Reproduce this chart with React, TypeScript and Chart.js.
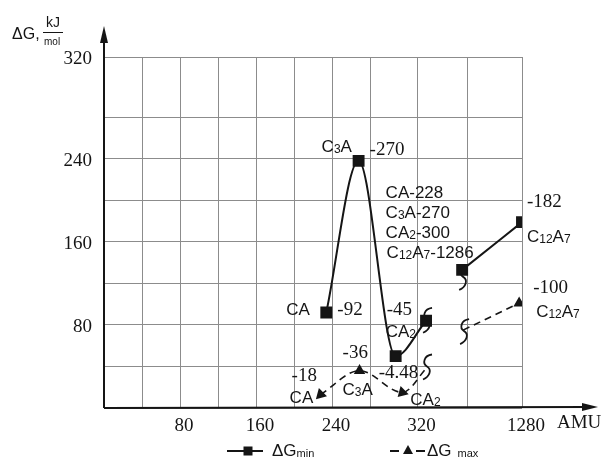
import React, { useEffect, useRef } from "react";
import { Chart, registerables } from "chart.js";
Chart.register(...registerables);

// ---------- data (axis units) ----------
const compounds = ["CA", "C3A", "CA2", "break", "break", "C12A7"];
const gMinX = [234, 268, 307, 339, 377, 440];
const gMinY = [92, 238, 50, 84, 133, 179];
const gMaxX = [228, 269, 314, 340, 378, 437];
const gMaxY = [13, 36, 15, 39, 75, 101];
const splitIndex = 4; // axis break between index 3 and 4
const maxRotation = [225, 0, 225, 0, 0, 0];
const xGridValues = [0, 40, 80, 120, 160, 200, 240, 280, 330, 383, 440];
const xTickValues = [80, 160, 240, 330, 440];
const xTickLabels = ["80", "160", "240", "320", "1280"];
const yGridValues = [0, 40, 80, 120, 160, 200, 240, 280, 338];
const yTickValues = [80, 160, 240, 338];
const yTickLabels = ["80", "160", "240", "320"];

type Ann = { s: 0 | 1; i: number; dx: number; dy: number; text: string; serif?: boolean };
const annotations: Ann[] = [
  { s: 0, i: 1, dx: -37, dy: -9, text: "C3A" },
  { s: 0, i: 1, dx: 11, dy: -6, text: "-270", serif: true },
  { s: 0, i: 1, dx: 27, dy: 37, text: "CA-228" },
  { s: 0, i: 1, dx: 27, dy: 57, text: "C3A-270" },
  { s: 0, i: 1, dx: 27, dy: 77, text: "CA2-300" },
  { s: 0, i: 1, dx: 28, dy: 97, text: "C12A7-1286" },
  { s: 0, i: 5, dx: 5, dy: -15, text: "-182", serif: true },
  { s: 0, i: 5, dx: 5, dy: 20, text: "C12A7" },
  { s: 0, i: 0, dx: -40, dy: 3, text: "CA" },
  { s: 0, i: 0, dx: 11, dy: 3, text: "-92", serif: true },
  { s: 0, i: 2, dx: -9, dy: -41, text: "-45", serif: true },
  { s: 0, i: 2, dx: -10, dy: -19, text: "CA2" },
  { s: 0, i: 2, dx: -17, dy: 22, text: "-4.48", serif: true },
  { s: 1, i: 1, dx: -17, dy: -13, text: "-36", serif: true },
  { s: 1, i: 1, dx: -17, dy: 24, text: "C3A" },
  { s: 1, i: 0, dx: -29, dy: -14, text: "-18", serif: true },
  { s: 1, i: 0, dx: -31, dy: 8, text: "CA" },
  { s: 1, i: 2, dx: 8, dy: 13, text: "CA2" },
  { s: 1, i: 5, dx: 14, dy: -10, text: "-100", serif: true },
  { s: 1, i: 5, dx: 17, dy: 14, text: "C12A7" },
];
const breakMarks = [
  { s: 0, i: 3, dx: 1, dy: -1 },
  { s: 0, i: 4, dx: 1, dy: 7 },
  { s: 1, i: 3, dx: 0, dy: -1 },
  { s: 1, i: 4, dx: 1, dy: 1 },
];

const SERIF = '"Liberation Serif", "DejaVu Serif", serif';
const SANS = '"Liberation Sans", Arial, sans-serif';
const INK = "#151515";

function pts(xs: number[], ys: number[], from: number, to: number) {
  const out: { x: number; y: number }[] = [];
  for (let k = from; k < to; k++) out.push({ x: xs[k], y: ys[k] });
  return out;
}

function drawFormula(ctx: CanvasRenderingContext2D, text: string, x: number, y: number, size: number) {
  // digits directly after a letter become small (subscript-like)
  const parts: [string, boolean][] = [];
  let k = 0;
  while (k < text.length) {
    const ch = text[k];
    const prevLetter = k > 0 && /[A-Za-z]/.test(text[k - 1]);
    if (/[0-9]/.test(ch) && prevLetter) {
      let j = k;
      while (j < text.length && /[0-9]/.test(text[j])) j++;
      parts.push([text.slice(k, j), true]);
      k = j;
    } else {
      let j = k + 1;
      while (j < text.length && !(/[0-9]/.test(text[j]) && /[A-Za-z]/.test(text[j - 1]))) j++;
      parts.push([text.slice(k, j), false]);
      k = j;
    }
  }
  let cx = x;
  for (const [t, small] of parts) {
    ctx.font = `${small ? Math.round(size * 0.68) : size}px ${SANS}`;
    ctx.fillText(t, cx, y + (small ? 1 : 0));
    cx += ctx.measureText(t).width;
  }
}

function drawBreak(ctx: CanvasRenderingContext2D, x: number, y: number) {
  ctx.save();
  ctx.strokeStyle = INK;
  ctx.lineWidth = 1.8;
  ctx.beginPath();
  ctx.moveTo(x + 5, y - 12);
  ctx.bezierCurveTo(x - 3, y - 11, x - 5, y - 3, x, y);
  ctx.bezierCurveTo(x + 5, y + 3, x + 3, y + 10, x - 4, y + 13);
  ctx.stroke();
  ctx.restore();
}

const decorPlugin = {
  id: "decor",
  afterDatasetsDraw(chart: any) {
    const ctx: CanvasRenderingContext2D = chart.ctx;
    const { left, bottom } = chart.chartArea;
    const sx = chart.scales.x;
    const sy = chart.scales.y;
    const anchor = (s: number, i: number) =>
      s === 0
        ? { x: sx.getPixelForValue(gMinX[i]), y: sy.getPixelForValue(gMinY[i]) }
        : { x: sx.getPixelForValue(gMaxX[i]), y: sy.getPixelForValue(gMaxY[i]) };
    ctx.save();
    ctx.fillStyle = INK;
    ctx.strokeStyle = INK;
    ctx.textBaseline = "alphabetic";
    ctx.textAlign = "left";

    // axes with arrows
    ctx.lineWidth = 2;
    ctx.beginPath();
    ctx.moveTo(left, bottom);
    ctx.lineTo(left, 34);
    ctx.moveTo(left, bottom);
    ctx.lineTo(590, bottom - 1);
    ctx.stroke();
    ctx.beginPath();
    ctx.moveTo(left, 26);
    ctx.lineTo(left - 4, 43);
    ctx.lineTo(left + 4, 43);
    ctx.closePath();
    ctx.fill();
    ctx.beginPath();
    ctx.moveTo(598, bottom - 1);
    ctx.lineTo(582, bottom - 5);
    ctx.lineTo(582, bottom + 3);
    ctx.closePath();
    ctx.fill();

    // axis titles
    ctx.font = `16px ${SANS}`;
    ctx.fillText("ΔG,", 12, 39);
    ctx.font = `14px ${SANS}`;
    ctx.fillText("kJ", 46, 27);
    ctx.lineWidth = 1;
    ctx.beginPath();
    ctx.moveTo(43, 32.5);
    ctx.lineTo(63, 32.5);
    ctx.stroke();
    ctx.font = `10px ${SANS}`;
    ctx.fillText("mol", 44, 45);
    ctx.font = `19px ${SERIF}`;
    ctx.fillText("AMU", 557, 428);

    // annotations
    for (const a of annotations) {
      const p = anchor(a.s, a.i);
      if (a.serif) {
        ctx.font = `19px ${SERIF}`;
        ctx.fillText(a.text, p.x + a.dx, p.y + a.dy);
      } else {
        drawFormula(ctx, a.text, p.x + a.dx, p.y + a.dy, 17);
      }
    }
    for (const b of breakMarks) {
      const p = anchor(b.s, b.i);
      drawBreak(ctx, p.x + b.dx, p.y + b.dy);
    }

    // legend
    const ly = 451;
    ctx.lineWidth = 2;
    ctx.beginPath();
    ctx.moveTo(227, ly);
    ctx.lineTo(263, ly);
    ctx.stroke();
    ctx.fillRect(243.5, ly - 4.5, 9, 9);
    ctx.font = `17px ${SANS}`;
    ctx.fillText("ΔG", 272, 456);
    let w = ctx.measureText("ΔG").width;
    ctx.font = `11px ${SANS}`;
    ctx.fillText("min", 272 + w, 457);

    ctx.lineWidth = 1.8;
    ctx.beginPath();
    ctx.moveTo(390, ly);
    ctx.lineTo(399, ly);
    ctx.moveTo(416, ly);
    ctx.lineTo(425, ly);
    ctx.stroke();
    ctx.beginPath();
    ctx.moveTo(408, ly - 6);
    ctx.lineTo(403, ly + 3);
    ctx.lineTo(413, ly + 3);
    ctx.closePath();
    ctx.fill();
    ctx.font = `17px ${SANS}`;
    ctx.fillText("ΔG", 427, 456);
    w = ctx.measureText("ΔG").width;
    ctx.font = `11px ${SANS}`;
    ctx.fillText("max", 427 + w + 6, 457);
    ctx.restore();
  },
};

export default function App() {
  const ref = useRef<HTMLCanvasElement>(null);
  useEffect(() => {
    if (!ref.current) return;
    const lineMin = { borderColor: INK, backgroundColor: INK, borderWidth: 2, pointStyle: "rect", pointRadius: 7, cubicInterpolationMode: "monotone" as const };
    const lineMax = { borderColor: INK, backgroundColor: INK, borderWidth: 1.6, borderDash: [7, 5], pointStyle: "triangle", pointRadius: 5, cubicInterpolationMode: "monotone" as const };
    const chart = new Chart(ref.current, {
      type: "line",
      data: {
        datasets: [
          { label: "ΔGmin", data: pts(gMinX, gMinY, 0, splitIndex), ...lineMin },
          { label: "ΔGmin", data: pts(gMinX, gMinY, splitIndex, gMinX.length), ...lineMin, pointRadius: [7, 7] },
          { label: "ΔGmax", data: pts(gMaxX, gMaxY, 0, splitIndex), ...lineMax, pointRadius: [5, 5, 5, 0], pointRotation: maxRotation.slice(0, splitIndex) },
          { label: "ΔGmax", data: pts(gMaxX, gMaxY, splitIndex, gMaxX.length), ...lineMax, pointRadius: [0, 5], pointRotation: maxRotation.slice(splitIndex) },
        ],
      },
      options: {
        animation: false,
        responsive: false,
        layout: { padding: { left: 0, top: 57, right: 80, bottom: 0 } },
        plugins: { legend: { display: false }, tooltip: { enabled: false } },
        scales: {
          x: {
            type: "linear",
            min: 0,
            max: 440,
            afterBuildTicks: (s: any) => { s.ticks = xGridValues.map((v) => ({ value: v })); },
            afterFit: (s: any) => { s.height = 51; },
            grid: { color: "#8c8c8c", lineWidth: 1, drawTicks: false },
            border: { display: false },
            ticks: {
              autoSkip: false,
              maxRotation: 0,
              padding: 7,
              labelOffset: 4,
              color: INK,
              font: { family: SERIF, size: 19 },
              callback: (v: any) => { const k = xTickValues.indexOf(Number(v)); return k >= 0 ? xTickLabels[k] : ""; },
            },
          },
          y: {
            type: "linear",
            min: 0,
            max: 338,
            afterBuildTicks: (s: any) => { s.ticks = yGridValues.map((v) => ({ value: v })); },
            afterFit: (s: any) => { s.width = 104; },
            grid: { color: "#8c8c8c", lineWidth: 1, drawTicks: false },
            border: { display: false },
            ticks: {
              autoSkip: false,
              padding: 12,
              labelOffset: 2,
              color: INK,
              font: { family: SERIF, size: 19 },
              callback: (v: any) => { const k = yTickValues.indexOf(Number(v)); return k >= 0 ? yTickLabels[k] : ""; },
            },
          },
        },
      },
      plugins: [decorPlugin],
    });
    return () => chart.destroy();
  }, []);
  return (
    <div style={{ position: "fixed", left: 0, top: 0, width: 602, height: 459, background: "#fff" }}>
      <canvas ref={ref} width={602} height={459} style={{ display: "block" }} />
    </div>
  );
}
